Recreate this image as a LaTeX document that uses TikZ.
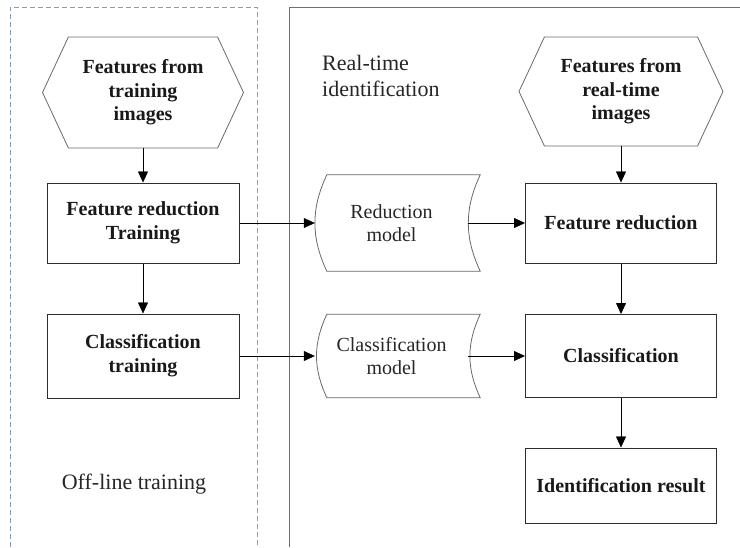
\documentclass[tikz,border=0pt]{standalone}
\usepackage{fontspec}
\setmainfont{Liberation Serif}
\usetikzlibrary{arrows.meta,shapes.symbols}
\definecolor{dashframe}{RGB}{135,155,185}
\definecolor{solidframe}{RGB}{95,115,150}
\definecolor{shapegray}{RGB}{105,105,105}
\definecolor{inkgray}{RGB}{45,45,45}
\newcommand{\storeoutline}[1]{%
  \draw[shapegray,line width=.8pt] ([xshift=12pt]#1.north west) to[bend right=25] ([xshift=12pt]#1.south west)
    -- ([xshift=12pt]#1.south east) to[bend left=25] ([xshift=12pt]#1.north east) -- cycle;}

\begin{document}
\begin{tikzpicture}[x=1pt,y=-1pt,>={Triangle[length=11pt,width=10pt]}]
\tikzstyle{box}=[draw=inkgray,line width=1pt,align=center,minimum width=191pt,text=black!90,font=\fontsize{20}{24}\selectfont\bfseries]
\tikzstyle{hexa}=[draw=shapegray,line width=.8pt,signal,signal to=west and east,signal pointer angle=130,align=center,text=black!90,font=\fontsize{20}{23.5}\selectfont\bfseries]
\tikzstyle{store}=[minimum width=153pt,align=center,text=black!85,font=\fontsize{20}{23}\selectfont]
\tikzstyle{lbl}=[inner sep=0pt,text=black!85,font=\fontsize{22}{26}\selectfont]
\useasboundingbox (0,0) rectangle (740,547);
% frames of the two stages
\draw[dashframe,dash pattern=on 5pt off 3pt] (10,547) -- (10,7) -- (257,7) -- (257,547);
\draw[solidframe] (289,547) -- (289,7) -- (740,7);
\node[lbl,align=left,anchor=west] (rtlabel) at (322,76) {Real-time\\identification};
\node[lbl] (oflabel) at (134,484) {Off-line training};
% off-line column
\node[hexa,minimum width=201pt,minimum height=111pt] (ftrain) at (143,92.5) {Features from\\training\\images};
\node[box,minimum width=192pt,minimum height=80pt] (rtrain) at (143,223) {Feature reduction\\Training};
\node[box,minimum width=192pt,minimum height=84pt] (ctrain) at (143,356) {Classification\\training};
% models
\node[store,minimum height=96pt] (rmod) at (391.5,223) {Reduction\\model};
\node[store,minimum height=83pt] (cmod) at (391.5,356) {Classification\\model};
\storeoutline{rmod}
\storeoutline{cmod}
% real-time column
\node[hexa,minimum width=204pt,minimum height=109pt] (freal) at (621,91.5) {Features from\\real-time\\images};
\node[box,minimum height=80pt] (rreal) at (621,223) {Feature reduction};
\node[box,minimum height=83pt] (creal) at (621,356) {Classification};
\node[box,minimum height=75pt] (ires) at (621,485.5) {Identification result};
\draw[->] (ftrain.south)--(rtrain.north);\draw[->] (rtrain.south)--(ctrain.north);
\draw[->] (rtrain)--(rmod);\draw[->] (ctrain)--(cmod);
\draw[->] (rmod)--(rreal);\draw[->] (cmod)--(creal);
\draw[->] (freal.south)--(rreal.north);\draw[->] (rreal.south)--(creal.north);
\draw[->] (creal.south)--(ires.north);
\end{tikzpicture}
\end{document}
